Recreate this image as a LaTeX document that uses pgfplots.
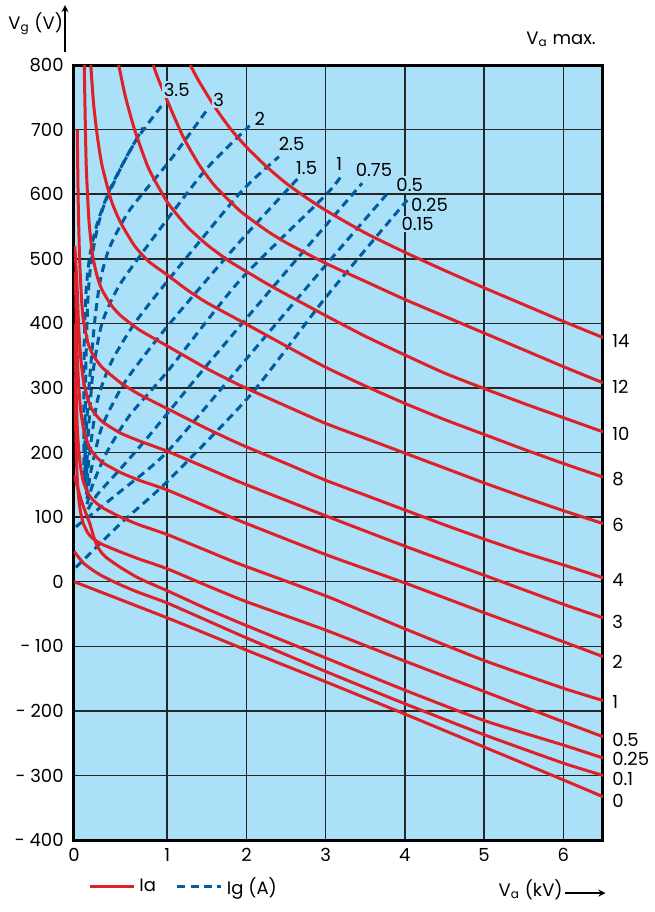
\documentclass[border=0pt]{standalone}
\usepackage{fontspec}
\setmainfont{Poppins}
\usepackage{pgfplots}
\pgfplotsset{compat=1.18}
\definecolor{bg}{RGB}{170,224,248}
\definecolor{ired}{RGB}{222,32,40}
\definecolor{gblue}{RGB}{0,92,160}
\begin{document}
\fontsize{9pt}{11pt}\selectfont
\begin{tikzpicture}
\begin{axis}[
  scale only axis, width=264.5pt, height=387.5pt,
  xmin=0, xmax=6.5, ymin=-400, ymax=800,
  x coord trafo/.code={\pgfmathparse{#1<1 ? #1*1.1765 : #1+0.1765}},
  x coord inv trafo/.code={\pgfmathparse{#1<1.1765 ? #1/1.1765 : #1-0.1765}},
  xtick={0,1,2,3,4,5,6}, xticklabels={0,1,2,3,4,5,6},
  ytick={-400,-300,-200,-100,0,100,200,300,400,500,600,700,800},
  yticklabels={- 400,- 300,- 200,- 100,0,100,200,300,400,500,600,700,800},
  ticklabel style={font=\fontsize{9pt}{11pt}\selectfont},
  yticklabel style={xshift=-2pt},
  xticklabel style={yshift=-1pt},
  grid=major, major grid style={black!85, line width=0.75pt},
  axis line style={line width=1.5pt},
  axis background/.style={fill=bg},
  tick style={draw=none},
  clip mode=individual,
  legend style={at={(0.0151,-0.0606)}, anchor=west, draw=none, fill=none,
    legend columns=2, font=\fontsize{9pt}{11pt}\selectfont,
    /tikz/every even column/.append style={column sep=8pt}},
  legend image code/.code={\draw[#1] (0pt,0pt) -- (22pt,0pt);},
  red/.style={ired, line width=1.5pt, smooth, tension=0.35},
  blu/.style={gblue, line width=1.5pt, dash pattern=on 4pt off 2.6pt, smooth, tension=0.4},
]
% Ia = 0
\addplot[red] coordinates {(0,0) (1,-56) (2,-106) (3,-155) (4,-205) (5,-256) (6,-307) (6.5,-333)};
\addlegendentry{Ia}
% Ig curves
\addplot[blu] coordinates {(0.02,22) (0.5,90) (1,155) (2.05,289) (3,440) (4.03,591)};
\addlegendentry{Ig (A)}
\addplot[blu,forget plot] coordinates {(0.02,85) (0.5,140) (1,201) (2,345) (3,490) (3.80,604)};
\addplot[blu,forget plot] coordinates {(0.15,112) (0.25,135) (0.5,175) (0.8,225) (1.5,335) (2.5,480) (3.46,617)};
\addplot[blu,forget plot] coordinates {(0.14,120) (0.2,150) (0.35,200) (0.6,258) (1,325) (1.92,467) (2.98,596) (3.19,627)};
\addplot[blu,forget plot] coordinates {(0.14,128) (0.18,170) (0.3,240) (0.55,310) (1,395) (1.92,527) (2.73,635)};
\addplot[blu,forget plot] coordinates {(0.135,135) (0.16,190) (0.25,280) (0.4,340) (0.65,400) (1,465) (1.92,602) (2.41,658)};
\addplot[blu,forget plot] coordinates {(0.13,143) (0.15,220) (0.2,320) (0.3,400) (0.5,462) (1,561) (1.5,640) (2.04,706)};
\addplot[blu,forget plot] coordinates {(0.12,154) (0.13,226) (0.16,299) (0.22,400) (0.28,465) (0.38,517) (0.6,576) (1.04,653) (1.5,730)};
\addplot[blu,forget plot] coordinates {(0.115,165) (0.12,250) (0.13,350) (0.15,440) (0.18,490) (0.24,540) (0.32,582) (0.5,640) (0.74,703)};
\addplot[blu,forget plot] coordinates {(0.105,180) (0.105,270) (0.11,370) (0.13,450) (0.17,505) (0.25,555) (0.39,609) (0.65,680) (0.94,737)};
% Ia = 0.1
\addplot[red,forget plot] coordinates {(0,47) (0.1,29) (0.2,18) (0.3,9) (0.5,-5) (0.7,-17) (1,-33) (1.5,-60) (2,-87) (3,-139) (4,-189) (5,-237) (6,-281) (6.5,-300)};
% Ia = 0.25
\addplot[red,forget plot] coordinates {(0,165) (0.03,150) (0.08,125) (0.13,105) (0.17,90) (0.21,70) (0.25,55) (0.29,46) (0.35,37) (0.5,22) (0.7,5) (1,-14) (1.5,-42) (2,-68) (3,-118) (4,-168) (5,-215) (6,-253) (6.5,-273)};
% Ia = 0.5
\addplot[red,forget plot] coordinates {(0.01,320) (0.015,260) (0.025,195) (0.035,160) (0.05,130) (0.07,108) (0.1,90) (0.15,75) (0.2,67) (0.3,58) (0.5,46) (0.7,35) (1,20) (1.5,-6) (2,-31) (3,-75) (4,-123) (5,-170) (6,-217) (6.5,-240)};
% Ia = 1
\addplot[red,forget plot] coordinates {(0.01,400) (0.015,350) (0.025,285) (0.035,240) (0.05,205) (0.07,178) (0.1,155) (0.15,137) (0.2,127) (0.3,115) (0.5,100) (0.7,88) (1,73) (1.5,48) (1.92,27) (3,-22) (4,-73) (5,-122) (6,-165) (6.5,-184)};
% Ia = 2
\addplot[red,forget plot] coordinates {(0.012,480) (0.015,470) (0.025,400) (0.035,350) (0.05,305) (0.07,268) (0.1,238) (0.15,213) (0.2,200) (0.3,185) (0.5,169) (0.7,157) (1,142) (1.5,116) (1.92,94) (3,42) (4,-2) (5,-48) (6,-93) (6.5,-116)};
% Ia = 3
\addplot[red,forget plot] coordinates {(0.008,520) (0.015,505) (0.025,480) (0.035,450) (0.05,395) (0.07,350) (0.1,312) (0.15,282) (0.2,265) (0.3,248) (0.5,230) (0.7,218) (1,202) (1.5,176) (1.92,154) (3,102) (4,55) (5,10) (6,-35) (6.5,-56)};
% Ia = 4
\addplot[red,forget plot] coordinates {(0.035,700) (0.045,590) (0.06,500) (0.08,440) (0.1,405) (0.15,370) (0.2,352) (0.3,332) (0.5,308) (0.7,290) (1,268) (1.5,237) (1.92,213) (2.5,183) (3,157) (3.5,134) (4,111) (4.5,88) (5,66) (5.5,45) (6,26) (6.5,6)};
% Ia = 6
\addplot[red,forget plot] coordinates {(0.11,800) (0.13,650) (0.16,560) (0.2,505) (0.25,472) (0.3,452) (0.4,428) (0.5,412) (0.7,390) (1,365) (1.5,330) (1.92,304) (2.5,272) (3,245) (3.5,222) (4,199) (4.5,176) (5,153) (5.5,131) (6,110) (6.5,90)};
% Ia = 8
\addplot[red,forget plot] coordinates {(0.18,800) (0.21,740) (0.25,690) (0.3,645) (0.4,590) (0.5,556) (0.65,520) (0.8,496) (1,475) (1.25,452) (1.5,432) (1.92,404) (2.5,365) (3,332) (3.5,303) (4,276) (4.5,251) (5,228) (5.5,205) (6,183) (6.5,162)};
% Ia = 10
\addplot[red,forget plot] coordinates {(0.48,800) (0.55,752) (0.65,700) (0.8,640) (1,588) (1.25,550) (1.5,522) (1.75,499) (1.92,486) (2.25,462) (2.5,445) (3,412) (3.5,380) (4,351) (4.5,323) (5,299) (5.5,276) (6,254) (6.5,232)};
% Ia = 12
\addplot[red,forget plot] coordinates {(0.85,800) (0.9,780) (1,745) (1.2,689) (1.4,646) (1.6,613) (1.92,574) (2.25,544) (2.5,525) (3,493) (3.5,465) (4,437) (5,385) (6,333) (6.5,308)};
% Ia = 14
\addplot[red,forget plot] coordinates {(1.29,800) (1.4,775) (1.6,735) (1.8,701) (2,673) (2.25,643) (2.5,617) (2.75,595) (3,575) (3.5,540) (4,510) (4.5,482) (5,455) (5.5,429) (6,403) (6.5,378)};
% Ig labels
\begin{scope}[every node/.style={fill=bg, inner sep=0.8pt, font=\fontsize{9pt}{11pt}\selectfont}]
\node at (axis cs:1.12,762) {3.5};
\node at (axis cs:1.65,746) {3};
\node at (axis cs:2.17,717) {2};
\node at (axis cs:2.57,678) {2.5};
\node at (axis cs:2.76,641) {1.5};
\node at (axis cs:3.17,647) {1};
\node at (axis cs:3.61,638) {0.75};
\node at (axis cs:4.06,615) {0.5};
\node at (axis cs:4.31,584) {0.25};
\node at (axis cs:4.16,554) {0.15};
\end{scope}
% Ia labels at right
\begin{scope}[every node/.style={anchor=west, inner sep=0pt, font=\fontsize{9pt}{11pt}\selectfont, xshift=4.5pt}]
\node at (axis cs:6.5,373) {14};
\node at (axis cs:6.5,302) {12};
\node at (axis cs:6.5,229) {10};
\node at (axis cs:6.5,159) {8};
\node at (axis cs:6.5,88) {6};
\node at (axis cs:6.5,3) {4};
\node at (axis cs:6.5,-62) {3};
\node at (axis cs:6.5,-124) {2};
\node at (axis cs:6.5,-187) {1};
\node at (axis cs:6.5,-245) {0.5};
\node at (axis cs:6.5,-274) {0.25};
\node at (axis cs:6.5,-305) {0.1};
\node at (axis cs:6.5,-339) {0};
\end{scope}
% axis titles
\node[anchor=west, inner sep=0pt] at (rel axis cs:-0.1248,1.0529) {V\textsubscript{g} (V)};
\draw[-stealth, line width=0.6pt] (rel axis cs:-0.0170,1.0168) -- (rel axis cs:-0.0170,1.0774);
\node[anchor=east, inner sep=0pt] at (rel axis cs:0.9869,1.0335) {V\textsubscript{a} max.};
\node[anchor=east, inner sep=0pt] at (rel axis cs:0.9244,-0.0645) {V\textsubscript{a} (kV)};
\draw[-stealth, line width=0.6pt] (rel axis cs:0.9285,-0.0684) -- (rel axis cs:1.0047,-0.0684);
\path (rel axis cs:-0.1399,-0.0929) rectangle (rel axis cs:1.0983,1.0839);
\end{axis}
\end{tikzpicture}
\end{document}
